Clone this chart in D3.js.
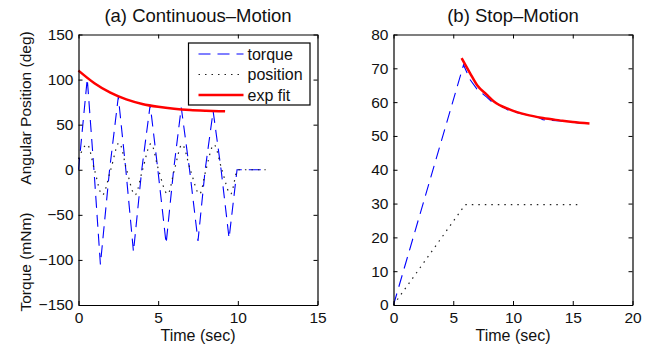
<!DOCTYPE html>
<html>
<head>
<meta charset="utf-8">
<script src="https://cdn.jsdelivr.net/npm/d3@7"></script>
<style>
  body { margin: 0; background: #fff; }
  text { font-family: "Liberation Sans", Arial, sans-serif; fill: #111; }
</style>
</head>
<body>
<div id="wrapper"></div>
<script>
// (a) continuous motion
const contTorqueT = [0, 0.55, 0.97, 1.375, 1.95, 2.5, 2.97, 3.45, 3.97, 4.5, 4.98, 5.5, 5.97, 6.45, 6.97, 7.5, 7.95, 8.45, 8.95, 9.45, 9.95, 11.75];
const contTorqueV = [0, 101, 0, -105, 0, 81, 0, -91, 0, 72, 0, -82, 0, 69, 0, -79, 0, 65, 0, -76, 0, 0];
const contPosT = [0, 0.55, 1.0, 1.5, 2.02, 2.55, 3.02, 3.55, 4.02, 4.55, 5.02, 5.6, 6.02, 6.5, 7.02, 7.6, 8.0, 8.5, 9.0, 9.55, 10.0, 11.75];
const contPosV = [12, 28, 0, -28, 0, 30, 0, -28, 0, 29, 0, -27, 0, 28, 0, -27, 0, 28, 0, -27, 0, 0];
const contFitT = [0, 1, 2, 3, 4, 5, 6, 7, 8, 9.2];
const contFitV = [110, 96, 85.5, 78, 73, 69.8, 67.6, 66.2, 65.4, 64.8];

// (b) stop motion
const stopTorqueT = [0, 5.86, 6.4, 6.97, 7.8, 8.2, 9.06, 9.75, 11.1, 12.05, 12.5, 13.3, 14.5, 15.6];
const stopTorqueV = [0, 71, 66.7, 63.9, 61.5, 60.2, 58.8, 57.3, 56.3, 55.6, 54.8, 54.6, 54.3, 53.8];
const stopPosT = [0, 6.0, 15.6];
const stopPosV = [0, 29.7, 29.7];
const stopFitT = [5.7, 6.4, 7.0, 7.8, 8.4, 9.75, 11.1, 12.5, 13.9, 15.0, 16.4];
const stopFitV = [73, 68.6, 65, 62.2, 60.2, 57.8, 56.3, 55.3, 54.6, 54.1, 53.7];

const legendLabels = ["torque", "position", "exp fit"];

const zip = (ts, vs) => ts.map((t, i) => ({t: t, v: vs[i]}));

const dashTorque = "12,7";
const dashPos = "1.5,5";

const svg = d3.select("#wrapper").append("svg")
    .attr("width", 655)
    .attr("height", 349);

function drawPanel(opt) {
    const x = d3.scaleLinear().domain(opt.xDomain).range([opt.left, opt.right]);
    const y = d3.scaleLinear().domain(opt.yDomain).range([opt.bottom, opt.top]);
    const g = svg.append("g");

    // title
    g.append("text")
        .attr("x", (opt.left + opt.right) / 2)
        .attr("y", 22)
        .attr("text-anchor", "middle")
        .style("font-size", "18.5px")
        .text(opt.title);

    const lineGen = (curve) => d3.line()
        .x(d => x(d.t))
        .y(d => y(d.v))
        .curve(curve);

    // series
    g.append("path")
        .attr("fill", "none")
        .attr("stroke", "#0000ff")
        .attr("stroke-width", 1.1)
        .attr("stroke-dasharray", dashTorque)
        .attr("d", lineGen(d3.curveLinear)(zip(opt.torqueT, opt.torqueV)));
    g.append("path")
        .attr("fill", "none")
        .attr("stroke", "#222")
        .attr("stroke-width", 1.2)
        .attr("stroke-dasharray", dashPos)
        .attr("d", lineGen(opt.posCurve)(zip(opt.posT, opt.posV)));
    g.append("path")
        .attr("fill", "none")
        .attr("stroke", "#ff0000")
        .attr("stroke-width", 2.5)
        .attr("d", lineGen(d3.curveMonotoneX)(zip(opt.fitT, opt.fitV)));

    // axes, ticks pointing inward on all four sides
    const axes = [
        {gen: d3.axisBottom(x).tickValues(opt.xTicks).tickSizeInner(-4).tickSizeOuter(0).tickPadding(7), tr: `translate(0,${opt.bottom})`},
        {gen: d3.axisTop(x).tickValues(opt.xTicks).tickSizeInner(-4).tickSizeOuter(0).tickFormat(""), tr: `translate(0,${opt.top})`},
        {gen: d3.axisLeft(y).tickValues(opt.yTicks).tickSizeInner(-4).tickSizeOuter(0).tickPadding(5).tickFormat(d => d < 0 ? "\u2212" + Math.abs(d) : d), tr: `translate(${opt.left},0)`},
        {gen: d3.axisRight(y).tickValues(opt.yTicks).tickSizeInner(-4).tickSizeOuter(0).tickFormat(""), tr: `translate(${opt.right},0)`}
    ];
    axes.forEach(a => {
        const ax = g.append("g").attr("transform", a.tr).call(a.gen);
        ax.select(".domain").attr("stroke", "#000").attr("stroke-width", 1.2);
        ax.selectAll(".tick line").attr("stroke", "#000");
        ax.selectAll(".tick text")
            .style("font-size", "15.5px")
            .style("font-family", "Liberation Sans, Arial, sans-serif")
            .attr("fill", "#111");
    });

    // x label
    g.append("text")
        .attr("x", (opt.left + opt.right) / 2)
        .attr("y", 341)
        .attr("text-anchor", "middle")
        .style("font-size", "16px")
        .text("Time (sec)");

    return {x, y, g};
}

drawPanel({
    title: "(a) Continuous\u2013Motion",
    left: 78.5, right: 317.5, top: 34.5, bottom: 305,
    xDomain: [0, 15], yDomain: [-150, 150],
    xTicks: [0, 5, 10, 15], yTicks: [-150, -100, -50, 0, 50, 100, 150],
    torqueT: contTorqueT, torqueV: contTorqueV,
    posT: contPosT, posV: contPosV, posCurve: d3.curveMonotoneX,
    fitT: contFitT, fitV: contFitV
});

drawPanel({
    title: "(b) Stop\u2013Motion",
    left: 393.5, right: 632.5, top: 34.5, bottom: 305,
    xDomain: [0, 20], yDomain: [0, 80],
    xTicks: [0, 5, 10, 15, 20], yTicks: [0, 10, 20, 30, 40, 50, 60, 70, 80],
    torqueT: stopTorqueT, torqueV: stopTorqueV,
    posT: stopPosT, posV: stopPosV, posCurve: d3.curveLinear,
    fitT: stopFitT, fitV: stopFitV
});

// y labels of panel (a)
svg.append("text")
    .attr("transform", "translate(30.5,108) rotate(-90)")
    .attr("text-anchor", "middle")
    .style("font-size", "15.5px")
    .text("Angular Position (deg)");
svg.append("text")
    .attr("transform", "translate(30.5,262) rotate(-90)")
    .attr("text-anchor", "middle")
    .style("font-size", "15.5px")
    .text("Torque (mNm)");

// legend
const legend = svg.append("g").attr("transform", "translate(188.5,43)");
legend.append("rect")
    .attr("width", 121.5)
    .attr("height", 62)
    .attr("fill", "#fff")
    .attr("stroke", "#000")
    .attr("stroke-width", 1.2);
const legendStyles = [
    {stroke: "#0000ff", width: 1.1, dash: dashTorque},
    {stroke: "#222", width: 1.2, dash: dashPos},
    {stroke: "#ff0000", width: 2.5, dash: null}
];
legendLabels.forEach((label, i) => {
    const yy = 11 + i * 20.5;
    legend.append("line")
        .attr("x1", 10).attr("x2", 55)
        .attr("y1", yy).attr("y2", yy)
        .attr("stroke", legendStyles[i].stroke)
        .attr("stroke-width", legendStyles[i].width)
        .attr("stroke-dasharray", legendStyles[i].dash);
    legend.append("text")
        .attr("x", 59)
        .attr("y", yy)
        .attr("dy", "0.35em")
        .style("font-size", "16px")
        .text(label);
});
</script>
</body>
</html>
